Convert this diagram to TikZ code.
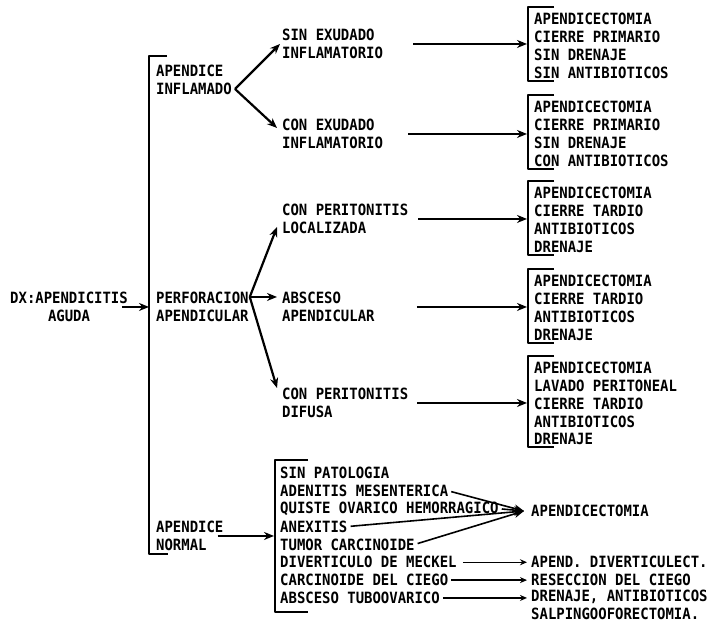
\documentclass[tikz,border=0pt]{standalone}
\usepackage{fontspec}
\newfontfamily\typew{DejaVu Sans Mono}[FakeStretch=0.9]
\usepackage{tikz}
\usetikzlibrary{positioning,arrows.meta}

\begin{document}
\begin{tikzpicture}[x=1pt, y=-1pt,
    txt/.style={font=\typew\bfseries\fontsize{15.5}{17.8}\selectfont, inner sep=0pt, align=left},
    arr/.style={line width=2.2pt, -{Stealth[length=10pt,width=8pt]}},
    tarr/.style={line width=1.3pt, -{Stealth[length=7pt,width=6pt]}},
    brk/.style={line width=2pt, line join=round}]

    \useasboundingbox (0,0) rectangle (714,623);

    % diagnosis and findings
    \node[txt, align=center, anchor=north] (dx) at (69,292) {DX:APENDICITIS\\AGUDA};
    \node[txt, anchor=north west] (infl) at (156,65) {APENDICE\\INFLAMADO};
    \node[txt, anchor=north west] (perf) at (156,292) {PERFORACION\\APENDICULAR};
    \node[txt, anchor=north west] (norm) at (156,521) {APENDICE\\NORMAL};

    \node[txt, anchor=north west] (sinex) at (282,29) {SIN EXUDADO\\INFLAMATORIO};
    \node[txt, anchor=north west] (conex) at (282,119) {CON EXUDADO\\INFLAMATORIO};
    \node[txt, anchor=north west] (loc) at (282,204) {CON PERITONITIS\\LOCALIZADA};
    \node[txt, anchor=north west] (absc) at (282,292) {ABSCESO\\APENDICULAR};
    \node[txt, anchor=north west] (dif) at (282,388) {CON PERITONITIS\\DIFUSA};

    % treatment
    \node[txt, anchor=north west] (b1) at (534,13) {APENDICECTOMIA\\CIERRE PRIMARIO\\SIN DRENAJE\\SIN ANTIBIOTICOS};
    \node[txt, anchor=north west] (b2) at (534,101) {APENDICECTOMIA\\CIERRE PRIMARIO\\SIN DRENAJE\\CON ANTIBIOTICOS};
    \node[txt, anchor=north west] (b3) at (534,187) {APENDICECTOMIA\\CIERRE TARDIO\\ANTIBIOTICOS\\DRENAJE};
    \node[txt, anchor=north west] (b4) at (534,275) {APENDICECTOMIA\\CIERRE TARDIO\\ANTIBIOTICOS\\DRENAJE};
    \node[txt, anchor=north west] (b5) at (534,362) {APENDICECTOMIA\\LAVADO PERITONEAL\\CIERRE TARDIO\\ANTIBIOTICOS\\DRENAJE};

    \foreach \t [count=\i] in {SIN PATOLOGIA, ADENITIS MESENTERICA, QUISTE OVARICO HEMORRAGICO, ANEXITIS, TUMOR CARCINOIDE, DIVERTICULO DE MECKEL, CARCINOIDE DEL CIEGO, ABSCESO TUBOOVARICO}
        \node[txt, anchor=west] (l\i) at (280,455.15+17.85*\i) {\t};

    \coordinate (cv) at (524,511);
    \node[txt, right=7pt of cv] (apx) {APENDICECTOMIA};
    \node[txt, anchor=west] (div) at (531,562) {APEND. DIVERTICULECT.};
    \node[txt, anchor=west] (res) at (531,580) {RESECCION DEL CIEGO};
    \node[txt, anchor=north west] (dren) at (531,590) {DRENAJE, ANTIBIOTICOS\\SALPINGOOFORECTOMIA.};

    % brackets
    \draw[brk] ([xshift=11pt,yshift=9pt]infl.north west) -- ([xshift=-7pt,yshift=9pt]infl.north west)
        -- ([xshift=-7pt,yshift=-3pt]norm.south west) -- ([xshift=12pt,yshift=-3pt]norm.south west);
    \foreach \b in {b1,b2,b3,b4,b5}
        \draw[brk] ([xshift=20pt,yshift=6pt]\b.north west) -- ([xshift=-6pt,yshift=6pt]\b.north west)
            -- ([xshift=-6pt,yshift=-2pt]\b.south west) -- ([xshift=20pt,yshift=-2pt]\b.south west);
    \draw[brk] ([xshift=28pt,yshift=7pt]l1.north west) -- ([xshift=-5pt,yshift=7pt]l1.north west)
        -- ([xshift=-5pt,yshift=-8pt]l8.south west) -- ([xshift=28pt,yshift=-8pt]l8.south west);

    % connectors
    \draw[arr, shorten <=-6pt, shorten >=7pt] (dx.east) -- (dx.east -| perf.west);

    \coordinate (f1) at ([xshift=3pt,yshift=-9pt]infl.east);
    \draw[arr] (f1) -- ([xshift=-2pt]sinex.west);
    \draw[arr] (f1) -- ([xshift=-5pt,yshift=6pt]conex.west);

    \coordinate (f2) at ([xshift=1pt,yshift=10pt]perf.east);
    \draw[arr] (f2) -- ([xshift=-5pt,yshift=-8pt]loc.west);
    \draw[arr] (f2) -- ([xshift=-5pt,yshift=10pt]absc.west);
    \draw[arr] (f2) -- ([xshift=-5pt,yshift=15pt]dif.west);

    \draw[arr, shorten <=30pt, shorten >=7pt] (sinex.east) -- (sinex.east -| b1.west);
    \draw[arr, shorten <=25pt, shorten >=7pt] (conex.east) -- (conex.east -| b2.west);
    \draw[arr, shorten <=10pt, shorten >=7pt] (loc.east) -- (loc.east -| b3.west);
    \draw[arr, shorten <=42pt, shorten >=7pt] (absc.east) -- (absc.east -| b4.west);
    \draw[arr, shorten <=9pt, shorten >=7pt] (dif.east) -- (dif.east -| b5.west);

    \draw[arr, shorten <=-6pt, shorten >=6pt] (norm.east) -- (norm.east -| l1.west);

    \foreach \i in {2,3,4,5}
        \draw[arr, line width=1.6pt, shorten <=3pt] (l\i.east) -- (cv);
    \draw[tarr, shorten <=6pt, shorten >=4pt] (l6.east) -- (l6.east -| div.west);
    \draw[tarr, shorten <=3pt, shorten >=4pt] (l7.east) -- (l7.east -| res.west);
    \draw[tarr, shorten <=3pt, shorten >=4pt] (l8.east) -- (l8.east -| dren.west);
\end{tikzpicture}
\end{document}
